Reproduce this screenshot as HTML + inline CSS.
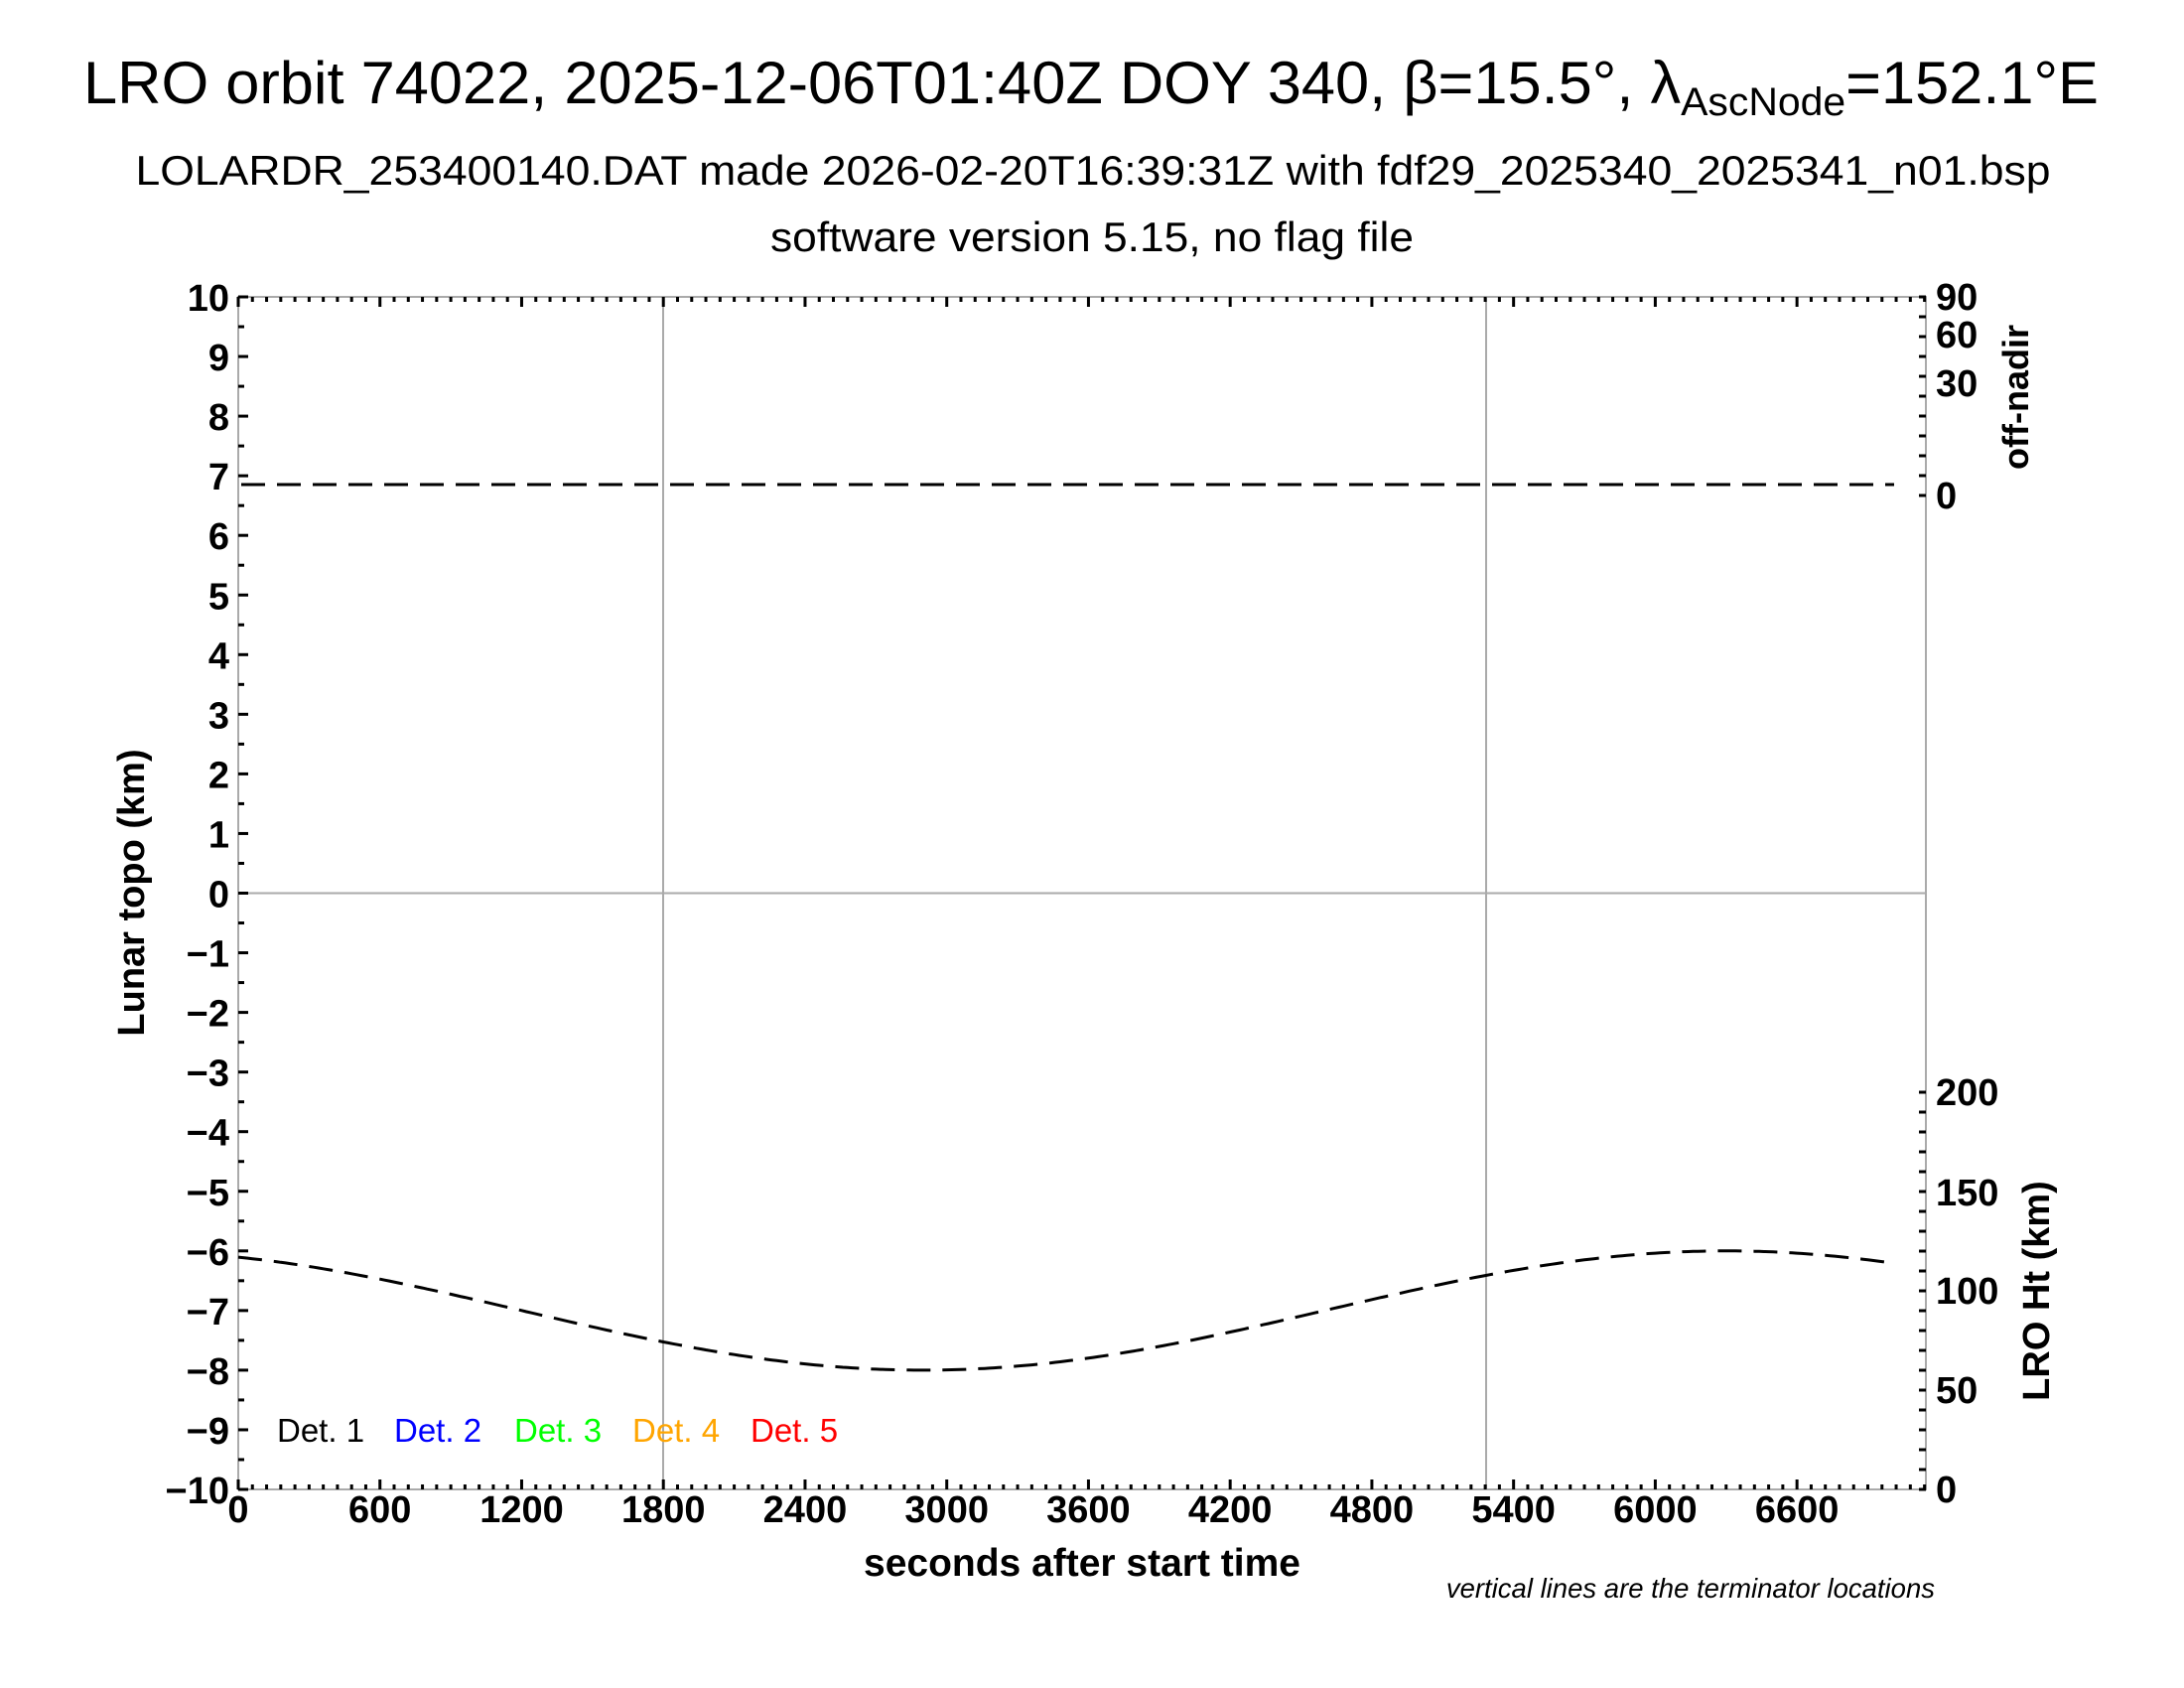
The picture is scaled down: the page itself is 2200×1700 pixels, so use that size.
<!DOCTYPE html>
<html><head><meta charset="utf-8"><style>body{margin:0;background:#fff}svg{display:block}</style></head><body>
<svg width="2200" height="1700" viewBox="0 0 2200 1700" xmlns="http://www.w3.org/2000/svg" font-family="Liberation Sans, sans-serif">
<text x="1099" y="104" font-size="60" text-anchor="middle" textLength="2030" lengthAdjust="spacingAndGlyphs">LRO orbit 74022, 2025-12-06T01:40Z DOY 340, β=15.5°, λ<tspan font-size="40" dy="12">AscNode</tspan><tspan dy="-12">=152.1°E</tspan></text>
<text x="1101" y="186" font-size="42" text-anchor="middle" textLength="1929" lengthAdjust="spacingAndGlyphs">LOLARDR_253400140.DAT made 2026-02-20T16:39:31Z with fdf29_2025340_2025341_n01.bsp</text>
<text x="1100" y="253" font-size="42" text-anchor="middle" textLength="648" lengthAdjust="spacingAndGlyphs">software version 5.15, no flag file</text>
<g stroke="#aaa" stroke-width="2" fill="none">
<rect x="240" y="299" width="1700" height="1201"/>
<line x1="240" y1="899.5" x2="1940" y2="899.5"/>
<line x1="668" y1="299" x2="668" y2="1500"/>
<line x1="1497" y1="299" x2="1497" y2="1500"/>
</g>
<g stroke="#000" stroke-width="3" id="ticks"></g>
<g stroke="#000" stroke-width="3" stroke-dasharray="24,12" fill="none">
<line x1="243" y1="488" x2="1908" y2="488"/>
<path id="c" d=""/>
</g>
<g font-size="33">
<text x="279" y="1452">Det. 1</text>
<text x="397" y="1452" fill="#00f">Det. 2</text>
<text x="518" y="1452" fill="#0f0">Det. 3</text>
<text x="637" y="1452" fill="#ffa500">Det. 4</text>
<text x="756" y="1452" fill="#f00">Det. 5</text>
</g>
<g font-weight="bold" font-size="38">
<text x="1090" y="1587" text-anchor="middle" font-size="39">seconds after start time</text>
<text transform="translate(145,899) rotate(-90)" text-anchor="middle">Lunar topo (km)</text>
<text transform="translate(2043,400) rotate(-90)" text-anchor="middle" font-size="36">off-nadir</text>
<text transform="translate(2064,1300) rotate(-90)" text-anchor="middle">LRO Ht (km)</text>
<text x="1950" y="312">90</text><text x="1950" y="350">60</text><text x="1950" y="399">30</text><text x="1950" y="512">0</text>
<text x="1950" y="1113">200</text><text x="1950" y="1214">150</text><text x="1950" y="1313">100</text><text x="1950" y="1413">50</text><text x="1950" y="1513">0</text>
</g>
<text x="1949" y="1609" font-size="27.5" font-style="italic" text-anchor="end">vertical lines are the terminator locations</text>
<script>
var ns="http://www.w3.org/2000/svg",tk=document.getElementById("ticks"),svg=document.querySelector("svg");
function L(a,b,c,d){var l=document.createElementNS(ns,"line");l.setAttribute("x1",a);l.setAttribute("y1",b);l.setAttribute("x2",c);l.setAttribute("y2",d);tk.appendChild(l);}
function T(x,y,s,anc){var t=document.createElementNS(ns,"text");t.setAttribute("x",x);t.setAttribute("y",y);t.setAttribute("font-weight","bold");t.setAttribute("font-size","38");t.setAttribute("text-anchor",anc);t.textContent=s;svg.appendChild(t);}
var X=function(s){return 240+s*0.2379},Y=function(v){return 299+(10-v)*60.05};
for(var v=-10;v<=10;v+=0.5){var y=Y(v),m=(v%1==0);L(240,y,240+(m?10:6),y);
 if(m){T(231,y+14,(v<0?"\u2212"+(-v):""+v),"end");}}
for(var s=0;s<=7140;s+=60){var x=X(s),m=(s%600==0);L(x,1500,x,1500-(m?10:5));L(x,299,x,299+(m?10:5));
 if(m&&s<=6600)T(x,1533,""+s,"middle");}
for(var y=1500;y>=1090;y-=20)L(1940,y,1933,y);
for(var y=499;y>=299;y-=20)L(1940,y,1933,y);
var d="";for(var s=0;s<=7011;s+=20){var v=-7-Math.cos(2*Math.PI*(s-2900)/6800);d+=(s?"L":"M")+X(s).toFixed(1)+" "+Y(v).toFixed(1);}
document.getElementById("c").setAttribute("d",d);
</script>
</svg>
</body></html>
